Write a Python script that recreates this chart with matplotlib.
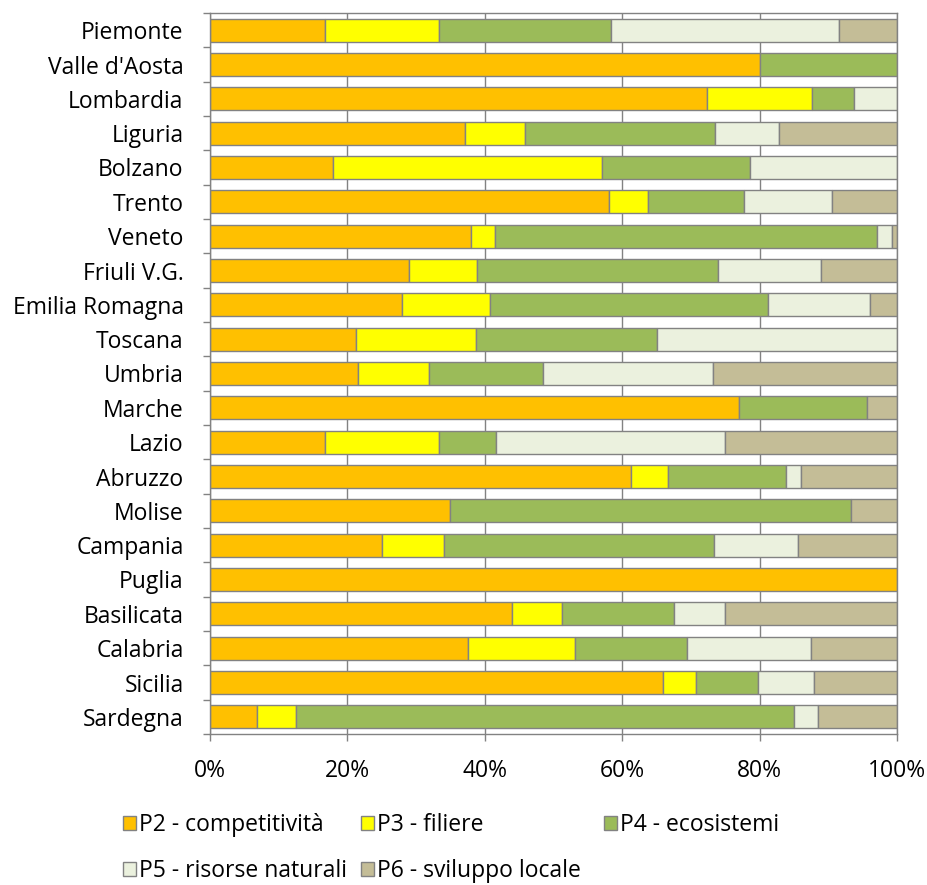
import matplotlib.pyplot as plt
import numpy as np
from matplotlib.patches import Patch

plt.rcParams['font.family'] = ['Open Sans', 'DejaVu Sans']

regioni = ["Piemonte", "Valle d'Aosta", "Lombardia", "Liguria", "Bolzano", "Trento",
           "Veneto", "Friuli V.G.", "Emilia Romagna", "Toscana", "Umbria", "Marche",
           "Lazio", "Abruzzo", "Molise", "Campania", "Puglia", "Basilicata",
           "Calabria", "Sicilia", "Sardegna"]

p2 = [16.7, 80.0, 72.3, 37.1, 17.9, 58.1, 38.0, 28.9, 27.9, 21.2, 21.6, 77.0,
      16.8, 61.3, 34.9, 25.1, 100.0, 44.0, 37.5, 66.0, 6.8]
p3 = [16.6, 0.0, 15.4, 8.8, 39.2, 5.6, 3.5, 10.0, 12.9, 17.5, 10.3, 0.0,
      16.5, 5.4, 0.0, 8.9, 0.0, 7.3, 15.7, 4.8, 5.7]
p4 = [25.0, 20.0, 6.1, 27.6, 21.5, 14.0, 55.6, 35.1, 40.4, 26.4, 16.6, 18.7,
      8.4, 17.1, 58.4, 39.3, 0.0, 16.3, 16.3, 9.0, 72.5]
p5 = [33.3, 0.0, 6.2, 9.3, 21.4, 12.8, 2.1, 14.9, 14.8, 34.9, 24.7, 0.0,
      33.2, 2.2, 0.0, 12.3, 0.0, 7.3, 18.0, 8.1, 3.5]
p6 = [8.4, 0.0, 0.0, 17.2, 0.0, 9.5, 0.8, 11.1, 4.0, 0.0, 26.8, 4.3,
      25.1, 14.0, 6.7, 14.4, 0.0, 25.1, 12.5, 12.1, 11.5]

serie = ["P2 - competitività", "P3 - filiere", "P4 - ecosistemi",
         "P5 - risorse naturali", "P6 - sviluppo locale"]
colori = ["#FFC000", "#FFFF00", "#9BBB59", "#EBF1DE", "#C4BD97"]
valori = [p2, p3, p4, p5, p6]

grigio = "#828282"

fig = plt.figure(figsize=(9.28, 8.85), dpi=100)
ax = fig.add_axes([210 / 928, 1 - 734 / 885, 687 / 928, 721 / 885])

y = np.arange(len(regioni))
tot = np.array(p2) + np.array(p3) + np.array(p4) + np.array(p5) + np.array(p6)
left = np.zeros(len(regioni))
for vals, col, lab in zip(valori, colori, serie):
    w = np.array(vals) / tot * 100
    mask = w > 0
    ax.barh(y[mask], w[mask], left=left[mask], height=0.67, color=col,
            edgecolor=grigio, linewidth=1.0, label=lab)
    left += w

ax.set_xlim(0, 100)
ax.set_ylim(len(regioni) - 0.5, -0.5)
ax.set_xticks(np.arange(0, 101, 20))
ax.set_xticklabels([f"{v}%" for v in range(0, 101, 20)])
ax.set_yticks(y)
ax.set_yticklabels(regioni)
ax.set_yticks(np.arange(-0.5, len(regioni), 1), minor=True)
ax.tick_params(axis='y', which='major', length=0, pad=19, labelsize=16.5)
ax.tick_params(axis='y', which='minor', length=5, color=grigio, width=1.0)
ax.tick_params(axis='x', length=5, color=grigio, width=1.0, pad=13, labelsize=16.5)
ax.grid(axis='x', color=grigio, linewidth=1.0)
ax.set_axisbelow(True)
for s in ax.spines.values():
    s.set_color(grigio)
    s.set_linewidth(1.0)

# legenda: tre colonne come in Excel
handles = [Patch(facecolor=c, edgecolor=grigio, linewidth=1.0) for c in colori]
colonne = [([0, 3], 123), ([1, 4], 361), ([2], 604)]
for idx, xpx in colonne:
    leg = fig.legend([handles[i] for i in idx], [serie[i] for i in idx],
                     loc='upper left', bbox_to_anchor=(xpx / 928, 1 - 813 / 885),
                     frameon=False, fontsize=16.5, borderpad=0, borderaxespad=0,
                     handlelength=0.55, handleheight=0.55, handletextpad=0.15,
                     labelspacing=0.95)

fig.savefig("out.png", dpi=100)
